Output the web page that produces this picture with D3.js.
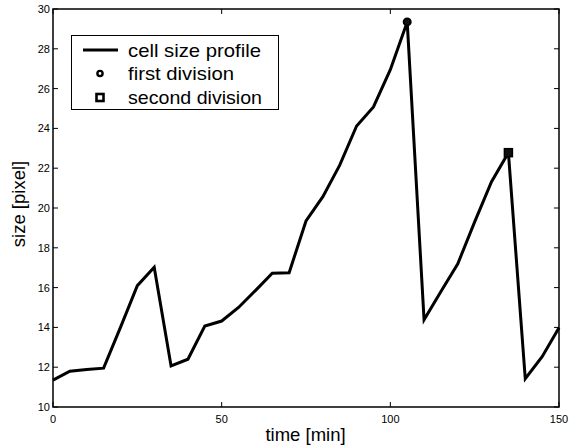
<!DOCTYPE html>
<html><head><meta charset="utf-8">
<script src="https://cdn.jsdelivr.net/npm/d3@7"></script>
<style>body{margin:0;background:#fff;} svg{display:block;font-family:"Liberation Sans",Arial,sans-serif;}</style>
</head><body>
<script>
const timeMin = [0,5,10,15,20,25,30,35,40,45,50,55,60,65,70,75,80,85,90,95,100,105,110,115,120,125,130,135,140,145,150];
const sizePx  = [11.35,11.8,11.88,11.95,14.0,16.1,17.02,12.06,12.4,14.07,14.32,15.0,15.85,16.72,16.75,19.35,20.57,22.15,24.12,25.08,26.95,29.35,14.38,15.8,17.2,19.3,21.32,22.78,11.42,12.53,13.98];
const firstDivision = [{t:105, s:29.35}];
const secondDivision = [{t:135, s:22.78}];
const xTicks = [0,50,100,150];
const yTicks = [10,12,14,16,18,20,22,24,26,28,30];
const legendLabels = ["cell size profile","first division","second division"];

const W=570,H=445;
const m={l:53,r:11,t:9,b:38};
const svg=d3.select("body").append("svg").attr("width",W).attr("height",H);
const x=d3.scaleLinear().domain([0,150]).range([m.l,W-m.r]);
const y=d3.scaleLinear().domain([10,30]).range([H-m.b,m.t]);

const g=svg.append("g");
xTicks.forEach(v=>{
  g.append("line").attr("x1",x(v)).attr("x2",x(v)).attr("y1",y(10)).attr("y2",y(10)-5).attr("stroke","#000");
  g.append("line").attr("x1",x(v)).attr("x2",x(v)).attr("y1",y(30)).attr("y2",y(30)+5).attr("stroke","#000");
  g.append("text").attr("x",x(v)).attr("y",y(10)+16).attr("text-anchor","middle").attr("font-size",11).text(v);
});
yTicks.forEach(v=>{
  g.append("line").attr("x1",x(0)).attr("x2",x(0)+5).attr("y1",y(v)).attr("y2",y(v)).attr("stroke","#000");
  g.append("line").attr("x1",x(150)).attr("x2",x(150)-5).attr("y1",y(v)).attr("y2",y(v)).attr("stroke","#000");
  g.append("text").attr("x",x(0)-3).attr("y",y(v)+4).attr("text-anchor","end").attr("font-size",11).text(v);
});
svg.append("rect").attr("x",x(0)).attr("y",y(30)).attr("width",x(150)-x(0)).attr("height",y(10)-y(30))
  .attr("fill","none").attr("stroke","#000").attr("stroke-width",1.5);

const line=d3.line().x((d,i)=>x(timeMin[i])).y(d=>y(d));
svg.append("path").datum(sizePx).attr("d",line).attr("fill","none").attr("stroke","#000")
  .attr("stroke-width",3).attr("stroke-linejoin","miter");

svg.selectAll(".c").data(firstDivision).enter().append("circle")
  .attr("cx",d=>x(d.t)).attr("cy",d=>y(d.s)).attr("r",3.5).attr("fill","#111").attr("stroke","#000").attr("stroke-width",2);
svg.selectAll(".s").data(secondDivision).enter().append("rect")
  .attr("x",d=>x(d.t)-4).attr("y",d=>y(d.s)-4).attr("width",8).attr("height",8).attr("fill","#111").attr("stroke","#000").attr("stroke-width",1.5);

const L=svg.append("g");
L.append("rect").attr("x",71.5).attr("y",35.5).attr("width",207).attr("height",74).attr("fill","#fff").attr("stroke","#000").attr("stroke-width",1);
const rows=[50,73.5,97.5];
L.append("line").attr("x1",83).attr("x2",118).attr("y1",rows[0]).attr("y2",rows[0]).attr("stroke","#000").attr("stroke-width",3);
L.append("circle").attr("cx",100).attr("cy",rows[1]).attr("r",2.6).attr("fill","#fff").attr("stroke","#000").attr("stroke-width",2.4);
L.append("rect").attr("x",96.5).attr("y",rows[2]-3.5).attr("width",7).attr("height",7).attr("fill","#fff").attr("stroke","#000").attr("stroke-width",2.6);
const legW=[133,106,134];
legendLabels.forEach((t,i)=>{
  L.append("text").attr("x",128).attr("y",rows[i]+6.5).attr("font-size",19).attr("textLength",legW[i]).attr("lengthAdjust","spacingAndGlyphs").text(t);
});

svg.append("text").attr("x",305.5).attr("y",441).attr("text-anchor","middle").attr("font-size",18.5).text("time [min]");
svg.append("text").attr("transform",`translate(25,204) rotate(-90)`).attr("text-anchor","middle").attr("font-size",18.5).text("size [pixel]");
</script>
</body></html>
